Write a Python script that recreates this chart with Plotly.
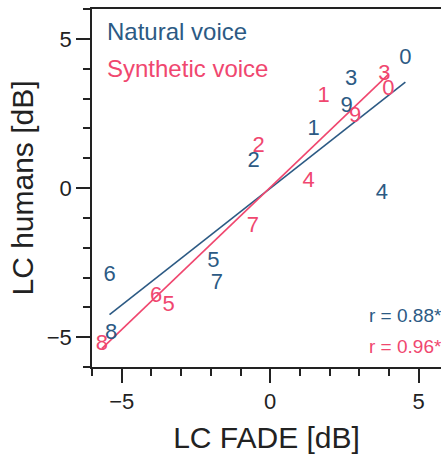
import numpy as np
import plotly.graph_objects as go

labels = ["0", "1", "2", "3", "4", "5", "6", "7", "8", "9"]

nat_x = [4.55, 1.46, -0.56, 2.72, 3.76, -1.91, -5.41, -1.80, -5.36, 2.57]
nat_y = [4.34, 1.96, 0.89, 3.63, -0.17, -2.46, -2.94, -3.21, -4.87, 2.74]

syn_x = [3.98, 1.80, -0.39, 3.84, 1.29, -3.42, -3.84, -0.58, -5.67, 2.86]
syn_y = [3.30, 3.07, 1.40, 3.80, 0.22, -3.95, -3.64, -1.29, -5.26, 2.40]

series_names = ["Natural voice", "Synthetic voice"]
r_labels = ["r = 0.88*", "r = 0.96*"]

BLUE = "#2c5a84"
PINK = "#f0476f"
FONT = "Liberation Sans, Arial, sans-serif"

fig = go.Figure()

for xs, ys, col in [(nat_x, nat_y, BLUE), (syn_x, syn_y, PINK)]:
    xa = np.array(xs)
    ya = np.array(ys)
    slope, icpt = np.polyfit(xa, ya, 1)
    lx = np.array([xa.min(), xa.max()])
    fig.add_trace(go.Scatter(x=lx, y=slope * lx + icpt, mode="lines",
                             line=dict(color=col, width=1.6), hoverinfo="skip"))

for xs, ys, col in [(nat_x, nat_y, BLUE), (syn_x, syn_y, PINK)]:
    fig.add_trace(go.Scatter(x=xs, y=ys, mode="text", text=labels,
                             textposition="middle center",
                             textfont=dict(color=col, size=22, family=FONT)))

annots = [
    dict(text=series_names[0], x=0.037, y=0.937, color=BLUE, size=24),
    dict(text=series_names[1], x=0.037, y=0.834, color=PINK, size=24),
    dict(text=r_labels[0], x=0.788, y=0.145, color=BLUE, size=19),
    dict(text=r_labels[1], x=0.788, y=0.057, color=PINK, size=19),
]
for a in annots:
    fig.add_annotation(text=a["text"], x=a["x"], y=a["y"], xref="paper", yref="paper",
                       xanchor="left", yanchor="middle", showarrow=False,
                       font=dict(color=a["color"], size=a["size"], family=FONT))

axis_common = dict(
    showgrid=False, zeroline=False, showline=True, linecolor="#222", linewidth=1.5,
    ticks="outside", ticklen=14, tickwidth=1.5, tickcolor="#222", dtick=5, tick0=0,
    tickfont=dict(size=22, family=FONT, color="#222"),
    minor=dict(dtick=1, tick0=0, ticks="outside", ticklen=7, tickwidth=1.5, tickcolor="#222"),
)

fig.update_layout(
    width=441, height=457,
    margin=dict(l=92, r=0, t=9, b=90),
    paper_bgcolor="white", plot_bgcolor="white",
    showlegend=False,
    xaxis=dict(range=[-6, 5.75], mirror=True,
               title=dict(text="LC FADE [dB]", font=dict(size=30, family=FONT, color="#222"), standoff=14),
               **axis_common),
    yaxis=dict(range=[-6, 6],
               title=dict(text="LC humans [dB]", font=dict(size=30, family=FONT, color="#222"), standoff=4),
               **axis_common),
)

fig.write_html("out.html")
